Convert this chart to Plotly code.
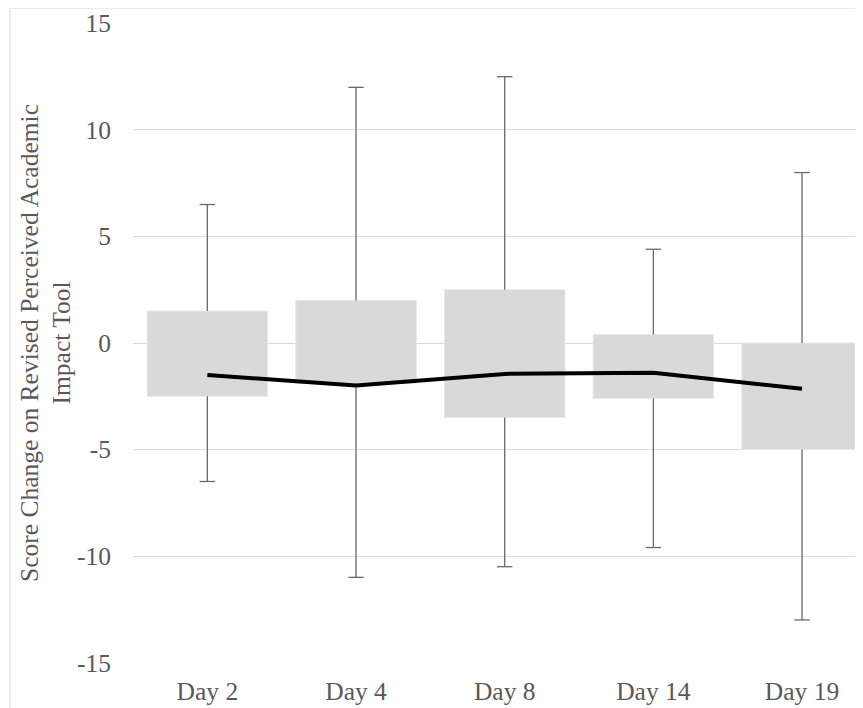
import plotly.graph_objects as go

categories = ["Day 2", "Day 4", "Day 8", "Day 14", "Day 19"]
q1_vals = [-2.5, -1.9, -3.5, -2.6, -5.0]
q3_vals = [1.5, 2.0, 2.5, 0.4, 0.0]
min_vals = [-6.5, -11.0, -10.5, -9.6, -13.0]
max_vals = [6.5, 12.0, 12.5, 4.4, 8.0]
mid_vals = [-1.5, -2.0, -1.45, -1.4, -2.15]
y_ticks = [-15, -10, -5, 0, 5, 10, 15]
y_tick_labels = ["-15", "-10", "-5", "0", "5", "10", "15"]
title_lines = ["Score Change on Revised Perceived Academic", "Impact Tool"]

FONT = "Liberation Serif"
FS = 25.5
TXT = "#595959"

fig = go.Figure()

# Boxes (Q1 to Q3)
fig.add_trace(go.Bar(
    x=categories,
    y=[h - l for h, l in zip(q3_vals, q1_vals)],
    base=q1_vals,
    width=0.81,
    marker=dict(color="#d9d9d9", line=dict(color="#e7e7e7", width=1)),
    showlegend=False, hoverinfo="skip",
))

# Whisker lines
wx, wy = [], []
for c, lo, q1, q3, hi in zip(categories, min_vals, q1_vals, q3_vals, max_vals):
    wx += [c, c, None, c, c, None]
    wy += [q3, hi, None, q1, lo, None]
fig.add_trace(go.Scatter(
    x=wx, y=wy, mode="lines",
    line=dict(color="#6a6a6a", width=1.3),
    showlegend=False, hoverinfo="skip",
))

# Whisker caps
fig.add_trace(go.Scatter(
    x=categories + categories, y=max_vals + min_vals, mode="markers",
    marker=dict(symbol="line-ew", size=11, line=dict(color="#6a6a6a", width=1.3)),
    showlegend=False, hoverinfo="skip",
))

# Central line
fig.add_trace(go.Scatter(
    x=categories, y=mid_vals, mode="lines",
    line=dict(color="#000000", width=4),
    showlegend=False, hoverinfo="skip",
))

# Chart border
fig.add_shape(type="rect", xref="paper", yref="paper",
              x0=-0.1685, x1=1.1, y0=-0.2, y1=1.0234,
              line=dict(color="#d9d9d9", width=1), fillcolor="rgba(0,0,0,0)",
              layer="below")

for txt, xp in zip(title_lines, [-0.1425, -0.0993]):
    fig.add_annotation(
        text=txt, xref="paper", yref="paper", x=xp, y=0.5,
        xanchor="center", yanchor="middle", textangle=-90, showarrow=False,
        font=dict(family=FONT, size=FS, color=TXT),
    )

fig.update_layout(
    width=855, height=700,
    margin=dict(l=125, r=0, t=15, b=45),
    paper_bgcolor="white", plot_bgcolor="white",
    font=dict(family=FONT, size=FS, color=TXT),
    showlegend=False,
    bargap=0.19,
)
fig.update_xaxes(
    type="category", range=[-0.5, 4.41],
    showgrid=False, zeroline=False, showline=False,
    ticks="", ticklabelstandoff=10,
    tickfont=dict(family=FONT, size=FS, color=TXT),
)
fig.update_yaxes(
    range=[-15.02, 15.02], tickvals=y_ticks, ticktext=y_tick_labels,
    showgrid=True, gridcolor="#d9d9d9", gridwidth=1.3,
    zeroline=False, showline=False, ticks="",
    ticklabelstandoff=21,
    tickfont=dict(family=FONT, size=FS, color=TXT),
)

fig.write_html("out.html")
